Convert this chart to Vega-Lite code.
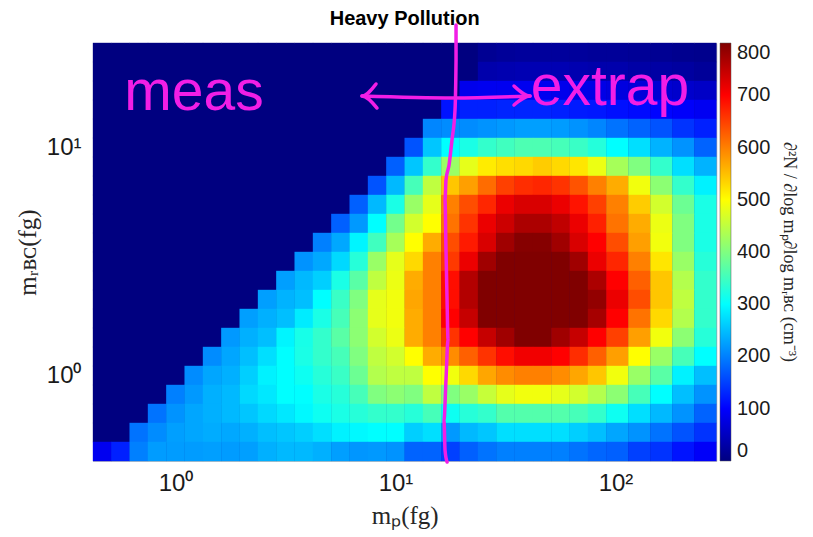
{
"$schema": "https://vega.github.io/schema/vega-lite/v6.json",
"width": 623.3,
"height": 418,
"autosize": {"type": "none"},
"padding": {"left": 93, "top": 43, "right": 97, "bottom": 76},
"background": "white",
"title": {"text": "Heavy Pollution", "font": "Liberation Sans", "fontSize": 20, "fontWeight": "bold", "color": "#000000", "anchor": "middle", "frame": "group", "offset": -6},
"config": {"view": {"stroke": "#c0c0c0", "fill": "#000080"}},
"datasets": {
"reg": [
{"x":0.4642,"y":26.102,"v":0},{"x":0.5623,"y":26.102,"v":0},{"x":0.6813,"y":26.102,"v":0},{"x":0.8254,"y":26.102,"v":0},{"x":1,"y":26.102,"v":0},{"x":1.2115,"y":26.102,"v":0},{"x":1.4678,"y":26.102,"v":0},{"x":1.7783,"y":26.102,"v":0},{"x":2.1544,"y":26.102,"v":0},{"x":2.6102,"y":26.102,"v":0},{"x":3.1623,"y":26.102,"v":0},{"x":3.8312,"y":26.102,"v":0},{"x":4.6416,"y":26.102,"v":0},{"x":5.6234,"y":26.102,"v":0},{"x":6.8129,"y":26.102,"v":0},{"x":8.254,"y":26.102,"v":0},{"x":10,"y":26.102,"v":0},{"x":12.115,"y":26.102,"v":0},{"x":14.678,"y":26.102,"v":0},{"x":17.783,"y":26.102,"v":0},{"x":21.544,"y":26.102,"v":0},{"x":26.102,"y":26.102,"v":15},{"x":31.623,"y":26.102,"v":20},{"x":38.312,"y":26.102,"v":22},{"x":46.416,"y":26.102,"v":22},{"x":56.234,"y":26.102,"v":22},{"x":68.129,"y":26.102,"v":22},{"x":82.54,"y":26.102,"v":20},
{"x":0.4642,"y":21.544,"v":0},{"x":0.5623,"y":21.544,"v":0},{"x":0.6813,"y":21.544,"v":0},{"x":0.8254,"y":21.544,"v":0},{"x":1,"y":21.544,"v":0},{"x":1.2115,"y":21.544,"v":0},{"x":1.4678,"y":21.544,"v":0},{"x":1.7783,"y":21.544,"v":0},{"x":2.1544,"y":21.544,"v":0},{"x":2.6102,"y":21.544,"v":0},{"x":3.1623,"y":21.544,"v":0},{"x":3.8312,"y":21.544,"v":0},{"x":4.6416,"y":21.544,"v":0},{"x":5.6234,"y":21.544,"v":0},{"x":6.8129,"y":21.544,"v":0},{"x":8.254,"y":21.544,"v":0},{"x":10,"y":21.544,"v":0},{"x":12.115,"y":21.544,"v":0},{"x":14.678,"y":21.544,"v":0},{"x":17.783,"y":21.544,"v":0},{"x":21.544,"y":21.544,"v":0},{"x":26.102,"y":21.544,"v":35},{"x":31.623,"y":21.544,"v":38},{"x":38.312,"y":21.544,"v":40},{"x":46.416,"y":21.544,"v":40},{"x":56.234,"y":21.544,"v":40},{"x":68.129,"y":21.544,"v":38},{"x":82.54,"y":21.544,"v":35},
{"x":0.4642,"y":17.783,"v":0},{"x":0.5623,"y":17.783,"v":0},{"x":0.6813,"y":17.783,"v":0},{"x":0.8254,"y":17.783,"v":0},{"x":1,"y":17.783,"v":0},{"x":1.2115,"y":17.783,"v":0},{"x":1.4678,"y":17.783,"v":0},{"x":1.7783,"y":17.783,"v":0},{"x":2.1544,"y":17.783,"v":0},{"x":2.6102,"y":17.783,"v":0},{"x":3.1623,"y":17.783,"v":0},{"x":3.8312,"y":17.783,"v":0},{"x":4.6416,"y":17.783,"v":0},{"x":5.6234,"y":17.783,"v":0},{"x":6.8129,"y":17.783,"v":0},{"x":8.254,"y":17.783,"v":0},{"x":10,"y":17.783,"v":0},{"x":12.115,"y":17.783,"v":0},{"x":14.678,"y":17.783,"v":0},{"x":17.783,"y":17.783,"v":0},{"x":21.544,"y":17.783,"v":85},{"x":26.102,"y":17.783,"v":88},{"x":31.623,"y":17.783,"v":88},{"x":38.312,"y":17.783,"v":88},{"x":46.416,"y":17.783,"v":88},{"x":56.234,"y":17.783,"v":85},{"x":68.129,"y":17.783,"v":82},{"x":82.54,"y":17.783,"v":80},
{"x":0.4642,"y":14.678,"v":0},{"x":0.5623,"y":14.678,"v":0},{"x":0.6813,"y":14.678,"v":0},{"x":0.8254,"y":14.678,"v":0},{"x":1,"y":14.678,"v":0},{"x":1.2115,"y":14.678,"v":0},{"x":1.4678,"y":14.678,"v":0},{"x":1.7783,"y":14.678,"v":0},{"x":2.1544,"y":14.678,"v":0},{"x":2.6102,"y":14.678,"v":0},{"x":3.1623,"y":14.678,"v":0},{"x":3.8312,"y":14.678,"v":0},{"x":4.6416,"y":14.678,"v":0},{"x":5.6234,"y":14.678,"v":0},{"x":6.8129,"y":14.678,"v":0},{"x":8.254,"y":14.678,"v":0},{"x":10,"y":14.678,"v":0},{"x":12.115,"y":14.678,"v":0},{"x":14.678,"y":14.678,"v":0},{"x":17.783,"y":14.678,"v":115},{"x":21.544,"y":14.678,"v":125},{"x":26.102,"y":14.678,"v":125},{"x":31.623,"y":14.678,"v":128},{"x":38.312,"y":14.678,"v":128},{"x":46.416,"y":14.678,"v":128},{"x":56.234,"y":14.678,"v":125},{"x":68.129,"y":14.678,"v":120},{"x":82.54,"y":14.678,"v":118},
{"x":0.4642,"y":12.115,"v":0},{"x":0.5623,"y":12.115,"v":0},{"x":0.6813,"y":12.115,"v":0},{"x":0.8254,"y":12.115,"v":0},{"x":1,"y":12.115,"v":0},{"x":1.2115,"y":12.115,"v":0},{"x":1.4678,"y":12.115,"v":0},{"x":1.7783,"y":12.115,"v":0},{"x":2.1544,"y":12.115,"v":0},{"x":2.6102,"y":12.115,"v":0},{"x":3.1623,"y":12.115,"v":0},{"x":3.8312,"y":12.115,"v":0},{"x":4.6416,"y":12.115,"v":0},{"x":5.6234,"y":12.115,"v":0},{"x":6.8129,"y":12.115,"v":0},{"x":8.254,"y":12.115,"v":0},{"x":10,"y":12.115,"v":0},{"x":12.115,"y":12.115,"v":0},{"x":14.678,"y":12.115,"v":205},{"x":17.783,"y":12.115,"v":210},{"x":21.544,"y":12.115,"v":210},{"x":26.102,"y":12.115,"v":215},{"x":31.623,"y":12.115,"v":220},{"x":38.312,"y":12.115,"v":225},{"x":46.416,"y":12.115,"v":225},{"x":56.234,"y":12.115,"v":222},{"x":68.129,"y":12.115,"v":215},{"x":82.54,"y":12.115,"v":205},
{"x":0.4642,"y":10,"v":0},{"x":0.5623,"y":10,"v":0},{"x":0.6813,"y":10,"v":0},{"x":0.8254,"y":10,"v":0},{"x":1,"y":10,"v":0},{"x":1.2115,"y":10,"v":0},{"x":1.4678,"y":10,"v":0},{"x":1.7783,"y":10,"v":0},{"x":2.1544,"y":10,"v":0},{"x":2.6102,"y":10,"v":0},{"x":3.1623,"y":10,"v":0},{"x":3.8312,"y":10,"v":0},{"x":4.6416,"y":10,"v":0},{"x":5.6234,"y":10,"v":0},{"x":6.8129,"y":10,"v":0},{"x":8.254,"y":10,"v":0},{"x":10,"y":10,"v":0},{"x":12.115,"y":10,"v":165},{"x":14.678,"y":10,"v":255},{"x":17.783,"y":10,"v":300},{"x":21.544,"y":10,"v":320},{"x":26.102,"y":10,"v":340},{"x":31.623,"y":10,"v":350},{"x":38.312,"y":10,"v":360},{"x":46.416,"y":10,"v":360},{"x":56.234,"y":10,"v":355},{"x":68.129,"y":10,"v":345},{"x":82.54,"y":10,"v":328},
{"x":0.4642,"y":8.254,"v":0},{"x":0.5623,"y":8.254,"v":0},{"x":0.6813,"y":8.254,"v":0},{"x":0.8254,"y":8.254,"v":0},{"x":1,"y":8.254,"v":0},{"x":1.2115,"y":8.254,"v":0},{"x":1.4678,"y":8.254,"v":0},{"x":1.7783,"y":8.254,"v":0},{"x":2.1544,"y":8.254,"v":0},{"x":2.6102,"y":8.254,"v":0},{"x":3.1623,"y":8.254,"v":0},{"x":3.8312,"y":8.254,"v":0},{"x":4.6416,"y":8.254,"v":0},{"x":5.6234,"y":8.254,"v":0},{"x":6.8129,"y":8.254,"v":0},{"x":8.254,"y":8.254,"v":0},{"x":10,"y":8.254,"v":175},{"x":12.115,"y":8.254,"v":255},{"x":14.678,"y":8.254,"v":340},{"x":17.783,"y":8.254,"v":420},{"x":21.544,"y":8.254,"v":480},{"x":26.102,"y":8.254,"v":515},{"x":31.623,"y":8.254,"v":525},{"x":38.312,"y":8.254,"v":530},{"x":46.416,"y":8.254,"v":540},{"x":56.234,"y":8.254,"v":530},{"x":68.129,"y":8.254,"v":520},{"x":82.54,"y":8.254,"v":485},
{"x":0.4642,"y":6.8129,"v":0},{"x":0.5623,"y":6.8129,"v":0},{"x":0.6813,"y":6.8129,"v":0},{"x":0.8254,"y":6.8129,"v":0},{"x":1,"y":6.8129,"v":0},{"x":1.2115,"y":6.8129,"v":0},{"x":1.4678,"y":6.8129,"v":0},{"x":1.7783,"y":6.8129,"v":0},{"x":2.1544,"y":6.8129,"v":0},{"x":2.6102,"y":6.8129,"v":0},{"x":3.1623,"y":6.8129,"v":0},{"x":3.8312,"y":6.8129,"v":0},{"x":4.6416,"y":6.8129,"v":0},{"x":5.6234,"y":6.8129,"v":0},{"x":6.8129,"y":6.8129,"v":0},{"x":8.254,"y":6.8129,"v":165},{"x":10,"y":6.8129,"v":245},{"x":12.115,"y":6.8129,"v":355},{"x":14.678,"y":6.8129,"v":450},{"x":17.783,"y":6.8129,"v":545},{"x":21.544,"y":6.8129,"v":575},{"x":26.102,"y":6.8129,"v":615},{"x":31.623,"y":6.8129,"v":650},{"x":38.312,"y":6.8129,"v":665},{"x":46.416,"y":6.8129,"v":670},{"x":56.234,"y":6.8129,"v":660},{"x":68.129,"y":6.8129,"v":635},{"x":82.54,"y":6.8129,"v":600},
{"x":0.4642,"y":5.6234,"v":0},{"x":0.5623,"y":5.6234,"v":0},{"x":0.6813,"y":5.6234,"v":0},{"x":0.8254,"y":5.6234,"v":0},{"x":1,"y":5.6234,"v":0},{"x":1.2115,"y":5.6234,"v":0},{"x":1.4678,"y":5.6234,"v":0},{"x":1.7783,"y":5.6234,"v":0},{"x":2.1544,"y":5.6234,"v":0},{"x":2.6102,"y":5.6234,"v":0},{"x":3.1623,"y":5.6234,"v":0},{"x":3.8312,"y":5.6234,"v":0},{"x":4.6416,"y":5.6234,"v":0},{"x":5.6234,"y":5.6234,"v":0},{"x":6.8129,"y":5.6234,"v":175},{"x":8.254,"y":5.6234,"v":245},{"x":10,"y":5.6234,"v":320},{"x":12.115,"y":5.6234,"v":420},{"x":14.678,"y":5.6234,"v":480},{"x":17.783,"y":5.6234,"v":600},{"x":21.544,"y":5.6234,"v":640},{"x":26.102,"y":5.6234,"v":670},{"x":31.623,"y":5.6234,"v":715},{"x":38.312,"y":5.6234,"v":730},{"x":46.416,"y":5.6234,"v":730},{"x":56.234,"y":5.6234,"v":715},{"x":68.129,"y":5.6234,"v":685},{"x":82.54,"y":5.6234,"v":650},
{"x":0.4642,"y":4.6416,"v":0},{"x":0.5623,"y":4.6416,"v":0},{"x":0.6813,"y":4.6416,"v":0},{"x":0.8254,"y":4.6416,"v":0},{"x":1,"y":4.6416,"v":0},{"x":1.2115,"y":4.6416,"v":0},{"x":1.4678,"y":4.6416,"v":0},{"x":1.7783,"y":4.6416,"v":0},{"x":2.1544,"y":4.6416,"v":0},{"x":2.6102,"y":4.6416,"v":0},{"x":3.1623,"y":4.6416,"v":0},{"x":3.8312,"y":4.6416,"v":0},{"x":4.6416,"y":4.6416,"v":0},{"x":5.6234,"y":4.6416,"v":175},{"x":6.8129,"y":4.6416,"v":220},{"x":8.254,"y":4.6416,"v":300},{"x":10,"y":4.6416,"v":390},{"x":12.115,"y":4.6416,"v":465},{"x":14.678,"y":4.6416,"v":500},{"x":17.783,"y":4.6416,"v":610},{"x":21.544,"y":4.6416,"v":660},{"x":26.102,"y":4.6416,"v":715},{"x":31.623,"y":4.6416,"v":740},{"x":38.312,"y":4.6416,"v":765},{"x":46.416,"y":4.6416,"v":765},{"x":56.234,"y":4.6416,"v":750},{"x":68.129,"y":4.6416,"v":715},{"x":82.54,"y":4.6416,"v":675},
{"x":0.4642,"y":3.8312,"v":0},{"x":0.5623,"y":3.8312,"v":0},{"x":0.6813,"y":3.8312,"v":0},{"x":0.8254,"y":3.8312,"v":0},{"x":1,"y":3.8312,"v":0},{"x":1.2115,"y":3.8312,"v":0},{"x":1.4678,"y":3.8312,"v":0},{"x":1.7783,"y":3.8312,"v":0},{"x":2.1544,"y":3.8312,"v":0},{"x":2.6102,"y":3.8312,"v":0},{"x":3.1623,"y":3.8312,"v":0},{"x":3.8312,"y":3.8312,"v":0},{"x":4.6416,"y":3.8312,"v":200},{"x":5.6234,"y":3.8312,"v":232},{"x":6.8129,"y":3.8312,"v":292},{"x":8.254,"y":3.8312,"v":350},{"x":10,"y":3.8312,"v":430},{"x":12.115,"y":3.8312,"v":500},{"x":14.678,"y":3.8312,"v":565},{"x":17.783,"y":3.8312,"v":640},{"x":21.544,"y":3.8312,"v":680},{"x":26.102,"y":3.8312,"v":730},{"x":31.623,"y":3.8312,"v":775},{"x":38.312,"y":3.8312,"v":795},{"x":46.416,"y":3.8312,"v":795},{"x":56.234,"y":3.8312,"v":775},{"x":68.129,"y":3.8312,"v":730},{"x":82.54,"y":3.8312,"v":700},
{"x":0.4642,"y":3.1623,"v":0},{"x":0.5623,"y":3.1623,"v":0},{"x":0.6813,"y":3.1623,"v":0},{"x":0.8254,"y":3.1623,"v":0},{"x":1,"y":3.1623,"v":0},{"x":1.2115,"y":3.1623,"v":0},{"x":1.4678,"y":3.1623,"v":0},{"x":1.7783,"y":3.1623,"v":0},{"x":2.1544,"y":3.1623,"v":0},{"x":2.6102,"y":3.1623,"v":0},{"x":3.1623,"y":3.1623,"v":0},{"x":3.8312,"y":3.1623,"v":215},{"x":4.6416,"y":3.1623,"v":232},{"x":5.6234,"y":3.1623,"v":270},{"x":6.8129,"y":3.1623,"v":330},{"x":8.254,"y":3.1623,"v":420},{"x":10,"y":3.1623,"v":480},{"x":12.115,"y":3.1623,"v":530},{"x":14.678,"y":3.1623,"v":600},{"x":17.783,"y":3.1623,"v":655},{"x":21.544,"y":3.1623,"v":715},{"x":26.102,"y":3.1623,"v":775},{"x":31.623,"y":3.1623,"v":805},{"x":38.312,"y":3.1623,"v":810},{"x":46.416,"y":3.1623,"v":810},{"x":56.234,"y":3.1623,"v":805},{"x":68.129,"y":3.1623,"v":775},{"x":82.54,"y":3.1623,"v":715},
{"x":0.4642,"y":2.6102,"v":0},{"x":0.5623,"y":2.6102,"v":0},{"x":0.6813,"y":2.6102,"v":0},{"x":0.8254,"y":2.6102,"v":0},{"x":1,"y":2.6102,"v":0},{"x":1.2115,"y":2.6102,"v":0},{"x":1.4678,"y":2.6102,"v":0},{"x":1.7783,"y":2.6102,"v":0},{"x":2.1544,"y":2.6102,"v":0},{"x":2.6102,"y":2.6102,"v":0},{"x":3.1623,"y":2.6102,"v":225},{"x":3.8312,"y":2.6102,"v":245},{"x":4.6416,"y":2.6102,"v":262},{"x":5.6234,"y":2.6102,"v":320},{"x":6.8129,"y":2.6102,"v":370},{"x":8.254,"y":2.6102,"v":450},{"x":10,"y":2.6102,"v":485},{"x":12.115,"y":2.6102,"v":565},{"x":14.678,"y":2.6102,"v":600},{"x":17.783,"y":2.6102,"v":690},{"x":21.544,"y":2.6102,"v":760},{"x":26.102,"y":2.6102,"v":805},{"x":31.623,"y":2.6102,"v":815},{"x":38.312,"y":2.6102,"v":820},{"x":46.416,"y":2.6102,"v":820},{"x":56.234,"y":2.6102,"v":815},{"x":68.129,"y":2.6102,"v":805},{"x":82.54,"y":2.6102,"v":765},
{"x":0.4642,"y":2.1544,"v":0},{"x":0.5623,"y":2.1544,"v":0},{"x":0.6813,"y":2.1544,"v":0},{"x":0.8254,"y":2.1544,"v":0},{"x":1,"y":2.1544,"v":0},{"x":1.2115,"y":2.1544,"v":0},{"x":1.4678,"y":2.1544,"v":0},{"x":1.7783,"y":2.1544,"v":0},{"x":2.1544,"y":2.1544,"v":0},{"x":2.6102,"y":2.1544,"v":225},{"x":3.1623,"y":2.1544,"v":240},{"x":3.8312,"y":2.1544,"v":250},{"x":4.6416,"y":2.1544,"v":300},{"x":5.6234,"y":2.1544,"v":345},{"x":6.8129,"y":2.1544,"v":400},{"x":8.254,"y":2.1544,"v":480},{"x":10,"y":2.1544,"v":490},{"x":12.115,"y":2.1544,"v":570},{"x":14.678,"y":2.1544,"v":600},{"x":17.783,"y":2.1544,"v":690},{"x":21.544,"y":2.1544,"v":760},{"x":26.102,"y":2.1544,"v":805},{"x":31.623,"y":2.1544,"v":820},{"x":38.312,"y":2.1544,"v":830},{"x":46.416,"y":2.1544,"v":830},{"x":56.234,"y":2.1544,"v":820},{"x":68.129,"y":2.1544,"v":805},{"x":82.54,"y":2.1544,"v":785},
{"x":0.4642,"y":1.7783,"v":0},{"x":0.5623,"y":1.7783,"v":0},{"x":0.6813,"y":1.7783,"v":0},{"x":0.8254,"y":1.7783,"v":0},{"x":1,"y":1.7783,"v":0},{"x":1.2115,"y":1.7783,"v":0},{"x":1.4678,"y":1.7783,"v":0},{"x":1.7783,"y":1.7783,"v":0},{"x":2.1544,"y":1.7783,"v":225},{"x":2.6102,"y":1.7783,"v":238},{"x":3.1623,"y":1.7783,"v":250},{"x":3.8312,"y":1.7783,"v":285},{"x":4.6416,"y":1.7783,"v":320},{"x":5.6234,"y":1.7783,"v":355},{"x":6.8129,"y":1.7783,"v":410},{"x":8.254,"y":1.7783,"v":480},{"x":10,"y":1.7783,"v":490},{"x":12.115,"y":1.7783,"v":565},{"x":14.678,"y":1.7783,"v":600},{"x":17.783,"y":1.7783,"v":700},{"x":21.544,"y":1.7783,"v":745},{"x":26.102,"y":1.7783,"v":805},{"x":31.623,"y":1.7783,"v":815},{"x":38.312,"y":1.7783,"v":820},{"x":46.416,"y":1.7783,"v":820},{"x":56.234,"y":1.7783,"v":815},{"x":68.129,"y":1.7783,"v":800},{"x":82.54,"y":1.7783,"v":770},
{"x":0.4642,"y":1.4678,"v":0},{"x":0.5623,"y":1.4678,"v":0},{"x":0.6813,"y":1.4678,"v":0},{"x":0.8254,"y":1.4678,"v":0},{"x":1,"y":1.4678,"v":0},{"x":1.2115,"y":1.4678,"v":0},{"x":1.4678,"y":1.4678,"v":0},{"x":1.7783,"y":1.4678,"v":220},{"x":2.1544,"y":1.4678,"v":238},{"x":2.6102,"y":1.4678,"v":250},{"x":3.1623,"y":1.4678,"v":292},{"x":3.8312,"y":1.4678,"v":318},{"x":4.6416,"y":1.4678,"v":340},{"x":5.6234,"y":1.4678,"v":370},{"x":6.8129,"y":1.4678,"v":410},{"x":8.254,"y":1.4678,"v":465},{"x":10,"y":1.4678,"v":485},{"x":12.115,"y":1.4678,"v":565},{"x":14.678,"y":1.4678,"v":600},{"x":17.783,"y":1.4678,"v":660},{"x":21.544,"y":1.4678,"v":700},{"x":26.102,"y":1.4678,"v":745},{"x":31.623,"y":1.4678,"v":775},{"x":38.312,"y":1.4678,"v":805},{"x":46.416,"y":1.4678,"v":805},{"x":56.234,"y":1.4678,"v":775},{"x":68.129,"y":1.4678,"v":745},{"x":82.54,"y":1.4678,"v":700},
{"x":0.4642,"y":1.2115,"v":0},{"x":0.5623,"y":1.2115,"v":0},{"x":0.6813,"y":1.2115,"v":0},{"x":0.8254,"y":1.2115,"v":0},{"x":1,"y":1.2115,"v":0},{"x":1.2115,"y":1.2115,"v":0},{"x":1.4678,"y":1.2115,"v":210},{"x":1.7783,"y":1.2115,"v":230},{"x":2.1544,"y":1.2115,"v":250},{"x":2.6102,"y":1.2115,"v":275},{"x":3.1623,"y":1.2115,"v":300},{"x":3.8312,"y":1.2115,"v":320},{"x":4.6416,"y":1.2115,"v":340},{"x":5.6234,"y":1.2115,"v":355},{"x":6.8129,"y":1.2115,"v":400},{"x":8.254,"y":1.2115,"v":450},{"x":10,"y":1.2115,"v":465},{"x":12.115,"y":1.2115,"v":500},{"x":14.678,"y":1.2115,"v":565},{"x":17.783,"y":1.2115,"v":590},{"x":21.544,"y":1.2115,"v":625},{"x":26.102,"y":1.2115,"v":660},{"x":31.623,"y":1.2115,"v":690},{"x":38.312,"y":1.2115,"v":710},{"x":46.416,"y":1.2115,"v":710},{"x":56.234,"y":1.2115,"v":700},{"x":68.129,"y":1.2115,"v":665},{"x":82.54,"y":1.2115,"v":625},
{"x":0.4642,"y":1,"v":0},{"x":0.5623,"y":1,"v":0},{"x":0.6813,"y":1,"v":0},{"x":0.8254,"y":1,"v":0},{"x":1,"y":1,"v":0},{"x":1.2115,"y":1,"v":210},{"x":1.4678,"y":1,"v":230},{"x":1.7783,"y":1,"v":238},{"x":2.1544,"y":1,"v":262},{"x":2.6102,"y":1,"v":290},{"x":3.1623,"y":1,"v":300},{"x":3.8312,"y":1,"v":310},{"x":4.6416,"y":1,"v":330},{"x":5.6234,"y":1,"v":345},{"x":6.8129,"y":1,"v":385},{"x":8.254,"y":1,"v":440},{"x":10,"y":1,"v":450},{"x":12.115,"y":1,"v":450},{"x":14.678,"y":1,"v":500},{"x":17.783,"y":1,"v":490},{"x":21.544,"y":1,"v":530},{"x":26.102,"y":1,"v":570},{"x":31.623,"y":1,"v":590},{"x":38.312,"y":1,"v":600},{"x":46.416,"y":1,"v":600},{"x":56.234,"y":1,"v":590},{"x":68.129,"y":1,"v":570},{"x":82.54,"y":1,"v":545},
{"x":0.4642,"y":0.8254,"v":0},{"x":0.5623,"y":0.8254,"v":0},{"x":0.6813,"y":0.8254,"v":0},{"x":0.8254,"y":0.8254,"v":0},{"x":1,"y":0.8254,"v":200},{"x":1.2115,"y":0.8254,"v":220},{"x":1.4678,"y":0.8254,"v":238},{"x":1.7783,"y":0.8254,"v":245},{"x":2.1544,"y":0.8254,"v":270},{"x":2.6102,"y":0.8254,"v":282},{"x":3.1623,"y":0.8254,"v":300},{"x":3.8312,"y":0.8254,"v":300},{"x":4.6416,"y":0.8254,"v":320},{"x":5.6234,"y":0.8254,"v":330},{"x":6.8129,"y":0.8254,"v":355},{"x":8.254,"y":0.8254,"v":400},{"x":10,"y":0.8254,"v":410},{"x":12.115,"y":0.8254,"v":400},{"x":14.678,"y":0.8254,"v":450},{"x":17.783,"y":0.8254,"v":400},{"x":21.544,"y":0.8254,"v":420},{"x":26.102,"y":0.8254,"v":455},{"x":31.623,"y":0.8254,"v":480},{"x":38.312,"y":0.8254,"v":490},{"x":46.416,"y":0.8254,"v":490},{"x":56.234,"y":0.8254,"v":480},{"x":68.129,"y":0.8254,"v":465},{"x":82.54,"y":0.8254,"v":440},
{"x":0.4642,"y":0.6813,"v":0},{"x":0.5623,"y":0.6813,"v":0},{"x":0.6813,"y":0.6813,"v":0},{"x":0.8254,"y":0.6813,"v":190},{"x":1,"y":0.6813,"v":215},{"x":1.2115,"y":0.6813,"v":230},{"x":1.4678,"y":0.6813,"v":238},{"x":1.7783,"y":0.6813,"v":245},{"x":2.1544,"y":0.6813,"v":255},{"x":2.6102,"y":0.6813,"v":270},{"x":3.1623,"y":0.6813,"v":282},{"x":3.8312,"y":0.6813,"v":295},{"x":4.6416,"y":0.6813,"v":310},{"x":5.6234,"y":0.6813,"v":320},{"x":6.8129,"y":0.6813,"v":330},{"x":8.254,"y":0.6813,"v":340},{"x":10,"y":0.6813,"v":340},{"x":12.115,"y":0.6813,"v":330},{"x":14.678,"y":0.6813,"v":355},{"x":17.783,"y":0.6813,"v":310},{"x":21.544,"y":0.6813,"v":330},{"x":26.102,"y":0.6813,"v":340},{"x":31.623,"y":0.6813,"v":365},{"x":38.312,"y":0.6813,"v":365},{"x":46.416,"y":0.6813,"v":365},{"x":56.234,"y":0.6813,"v":365},{"x":68.129,"y":0.6813,"v":355},{"x":82.54,"y":0.6813,"v":340},
{"x":0.4642,"y":0.5623,"v":0},{"x":0.5623,"y":0.5623,"v":0},{"x":0.6813,"y":0.5623,"v":190},{"x":0.8254,"y":0.5623,"v":210},{"x":1,"y":0.5623,"v":225},{"x":1.2115,"y":0.5623,"v":230},{"x":1.4678,"y":0.5623,"v":235},{"x":1.7783,"y":0.5623,"v":232},{"x":2.1544,"y":0.5623,"v":238},{"x":2.6102,"y":0.5623,"v":250},{"x":3.1623,"y":0.5623,"v":255},{"x":3.8312,"y":0.5623,"v":262},{"x":4.6416,"y":0.5623,"v":275},{"x":5.6234,"y":0.5623,"v":290},{"x":6.8129,"y":0.5623,"v":295},{"x":8.254,"y":0.5623,"v":300},{"x":10,"y":0.5623,"v":300},{"x":12.115,"y":0.5623,"v":262},{"x":14.678,"y":0.5623,"v":275},{"x":17.783,"y":0.5623,"v":220},{"x":21.544,"y":0.5623,"v":245},{"x":26.102,"y":0.5623,"v":255},{"x":31.623,"y":0.5623,"v":275},{"x":38.312,"y":0.5623,"v":275},{"x":46.416,"y":0.5623,"v":275},{"x":56.234,"y":0.5623,"v":275},{"x":68.129,"y":0.5623,"v":262},{"x":82.54,"y":0.5623,"v":250},
{"x":0.4642,"y":0.4642,"v":88},{"x":0.5623,"y":0.4642,"v":125},{"x":0.6813,"y":0.4642,"v":200},{"x":0.8254,"y":0.4642,"v":222},{"x":1,"y":0.4642,"v":222},{"x":1.2115,"y":0.4642,"v":222},{"x":1.4678,"y":0.4642,"v":225},{"x":1.7783,"y":0.4642,"v":222},{"x":2.1544,"y":0.4642,"v":225},{"x":2.6102,"y":0.4642,"v":238},{"x":3.1623,"y":0.4642,"v":245},{"x":3.8312,"y":0.4642,"v":245},{"x":4.6416,"y":0.4642,"v":238},{"x":5.6234,"y":0.4642,"v":225},{"x":6.8129,"y":0.4642,"v":218},{"x":8.254,"y":0.4642,"v":220},{"x":10,"y":0.4642,"v":215},{"x":12.115,"y":0.4642,"v":178},{"x":14.678,"y":0.4642,"v":178},{"x":17.783,"y":0.4642,"v":150},{"x":21.544,"y":0.4642,"v":175},{"x":26.102,"y":0.4642,"v":190},{"x":31.623,"y":0.4642,"v":200},{"x":38.312,"y":0.4642,"v":200},{"x":46.416,"y":0.4642,"v":200},{"x":56.234,"y":0.4642,"v":200},{"x":68.129,"y":0.4642,"v":190},{"x":82.54,"y":0.4642,"v":180}
],
"wide": [
{"x":101.9,"y":26.102,"v":20},{"x":128.3,"y":26.102,"v":18},{"x":161.6,"y":26.102,"v":15},{"x":203.4,"y":26.102,"v":12},{"x":256,"y":26.102,"v":10},
{"x":101.9,"y":21.544,"v":35},{"x":128.3,"y":21.544,"v":30},{"x":161.6,"y":21.544,"v":28},{"x":203.4,"y":21.544,"v":25},{"x":256,"y":21.544,"v":20},
{"x":101.9,"y":17.783,"v":75},{"x":128.3,"y":17.783,"v":70},{"x":161.6,"y":17.783,"v":65},{"x":203.4,"y":17.783,"v":60},{"x":256,"y":17.783,"v":55},
{"x":101.9,"y":14.678,"v":112},{"x":128.3,"y":14.678,"v":108},{"x":161.6,"y":14.678,"v":102},{"x":203.4,"y":14.678,"v":96},{"x":256,"y":14.678,"v":90},
{"x":101.9,"y":12.115,"v":190},{"x":128.3,"y":12.115,"v":178},{"x":161.6,"y":12.115,"v":165},{"x":203.4,"y":12.115,"v":140},{"x":256,"y":12.115,"v":125},
{"x":101.9,"y":10,"v":300},{"x":128.3,"y":10,"v":275},{"x":161.6,"y":10,"v":240},{"x":203.4,"y":10,"v":215},{"x":256,"y":10,"v":178},
{"x":101.9,"y":8.254,"v":430},{"x":128.3,"y":8.254,"v":400},{"x":161.6,"y":8.254,"v":340},{"x":203.4,"y":8.254,"v":275},{"x":256,"y":8.254,"v":240},
{"x":101.9,"y":6.8129,"v":565},{"x":128.3,"y":6.8129,"v":490},{"x":161.6,"y":6.8129,"v":410},{"x":203.4,"y":6.8129,"v":340},{"x":256,"y":6.8129,"v":290},
{"x":101.9,"y":5.6234,"v":600},{"x":128.3,"y":5.6234,"v":540},{"x":161.6,"y":5.6234,"v":465},{"x":203.4,"y":5.6234,"v":385},{"x":256,"y":5.6234,"v":320},
{"x":101.9,"y":4.6416,"v":610},{"x":128.3,"y":4.6416,"v":565},{"x":161.6,"y":4.6416,"v":485},{"x":203.4,"y":4.6416,"v":400},{"x":256,"y":4.6416,"v":320},
{"x":101.9,"y":3.8312,"v":640},{"x":128.3,"y":3.8312,"v":575},{"x":161.6,"y":3.8312,"v":490},{"x":203.4,"y":3.8312,"v":400},{"x":256,"y":3.8312,"v":320},
{"x":101.9,"y":3.1623,"v":670},{"x":128.3,"y":3.1623,"v":600},{"x":161.6,"y":3.1623,"v":520},{"x":203.4,"y":3.1623,"v":420},{"x":256,"y":3.1623,"v":330},
{"x":101.9,"y":2.6102,"v":700},{"x":128.3,"y":2.6102,"v":625},{"x":161.6,"y":2.6102,"v":545},{"x":203.4,"y":2.6102,"v":440},{"x":256,"y":2.6102,"v":340},
{"x":101.9,"y":2.1544,"v":715},{"x":128.3,"y":2.1544,"v":640},{"x":161.6,"y":2.1544,"v":545},{"x":203.4,"y":2.1544,"v":450},{"x":256,"y":2.1544,"v":340},
{"x":101.9,"y":1.7783,"v":700},{"x":128.3,"y":1.7783,"v":610},{"x":161.6,"y":1.7783,"v":530},{"x":203.4,"y":1.7783,"v":440},{"x":256,"y":1.7783,"v":340},
{"x":101.9,"y":1.4678,"v":650},{"x":128.3,"y":1.4678,"v":575},{"x":161.6,"y":1.4678,"v":490},{"x":203.4,"y":1.4678,"v":410},{"x":256,"y":1.4678,"v":330},
{"x":101.9,"y":1.2115,"v":575},{"x":128.3,"y":1.2115,"v":500},{"x":161.6,"y":1.2115,"v":420},{"x":203.4,"y":1.2115,"v":355},{"x":256,"y":1.2115,"v":300},
{"x":101.9,"y":1,"v":490},{"x":128.3,"y":1,"v":420},{"x":161.6,"y":1,"v":370},{"x":203.4,"y":1,"v":290},{"x":256,"y":1,"v":250},
{"x":101.9,"y":0.8254,"v":410},{"x":128.3,"y":0.8254,"v":355},{"x":161.6,"y":0.8254,"v":300},{"x":203.4,"y":0.8254,"v":250},{"x":256,"y":0.8254,"v":215},
{"x":101.9,"y":0.6813,"v":310},{"x":128.3,"y":0.6813,"v":275},{"x":161.6,"y":0.6813,"v":245},{"x":203.4,"y":0.6813,"v":215},{"x":256,"y":0.6813,"v":178},
{"x":101.9,"y":0.5623,"v":230},{"x":128.3,"y":0.5623,"v":215},{"x":161.6,"y":0.5623,"v":190},{"x":203.4,"y":0.5623,"v":165},{"x":256,"y":0.5623,"v":140},
{"x":101.9,"y":0.4642,"v":175},{"x":128.3,"y":0.4642,"v":150},{"x":161.6,"y":0.4642,"v":140},{"x":203.4,"y":0.4642,"v":115},{"x":256,"y":0.4642,"v":95}
],
"pen": [
{"s":"v","o":0,"x":18.84,"y":34.45},{"s":"v","o":1,"x":18.84,"y":24.19},{"s":"v","o":2,"x":18.64,"y":14.6},{"s":"v","o":3,"x":18.06,"y":10.79},{"s":"v","o":4,"x":17.51,"y":8.38},{"s":"v","o":5,"x":16.96,"y":7.202},{"s":"v","o":6,"x":16.79,"y":5.885},{"s":"v","o":7,"x":16.96,"y":3.551},{"s":"v","o":8,"x":17.15,"y":2.144},{"s":"v","o":9,"x":17.33,"y":1.431},{"s":"v","o":10,"x":16.96,"y":0.9555},{"s":"v","o":11,"x":16.61,"y":0.6381},{"s":"v","o":12,"x":16.79,"y":0.4711},{"s":"v","o":13,"x":17.15,"y":0.4175},
{"s":"a","o":0,"x":7.04,"y":16.82},{"s":"a","o":1,"x":18.3,"y":16.49},{"s":"a","o":2,"x":40.88,"y":16.82},
{"s":"l","o":0,"x":8.154,"y":18.99},{"s":"l","o":1,"x":7.04,"y":16.82},{"s":"l","o":2,"x":8.239,"y":14.9},
{"s":"r","o":0,"x":34.56,"y":18.61},{"s":"r","o":1,"x":40.88,"y":16.82},{"s":"r","o":2,"x":34.56,"y":15.36}
],
"notes": [
{"x":1.213,"y":14.6,"t":"meas"},
{"x":94.4,"y":15.36,"t":"extrap"}
]
},
"encoding": {
"x": {"field": "x", "type": "quantitative", "title": "mₚ(fg)",
 "scale": {"type": "log", "domain": [0.4217, 287.1], "nice": false},
 "axis": {"values": [1, 10, 100], "labelExpr": "datum.value == 1 ? '10⁰' : datum.value == 10 ? '10¹' : '10²'", "grid": false, "ticks": false, "domain": false, "labelFont": "Liberation Sans", "labelFontSize": 24, "labelColor": "#1a1a1a", "labelPadding": 11, "titleFont": "Liberation Serif", "titleFontSize": 25, "titleFontWeight": "normal", "titleColor": "#262626", "titlePadding": 8}},
"y": {"field": "y", "type": "quantitative", "title": "mᵣʙᴄ(fg)",
 "scale": {"type": "log", "domain": [0.4217, 28.73], "nice": false},
 "axis": {"values": [1, 10], "labelExpr": "datum.value == 1 ? '10⁰' : '10¹'", "grid": false, "ticks": false, "domain": false, "labelFont": "Liberation Sans", "labelFontSize": 24, "labelColor": "#1a1a1a", "labelPadding": 12, "titleFont": "Liberation Serif", "titleFontSize": 25, "titleFontWeight": "normal", "titleColor": "#262626", "titlePadding": 6}}
},
"layer": [
{"data": {"name": "reg"},
 "mark": {"type": "rect", "width": 18.7, "height": 19.4},
 "encoding": {"color": {"field": "v", "type": "quantitative",
  "scale": {"type": "linear", "domain": [0, 100, 300, 500, 700, 800], "range": ["#000080", "#0000ff", "#00ffff", "#ffff00", "#ff0000", "#800000"], "interpolate": "rgb", "clamp": true},
  "legend": {"orient": "right", "offset": 3, "padding": 0, "gradientLength": 418, "gradientThickness": 11, "gradientStrokeColor": "#555555", "gradientStrokeWidth": 0.5, "values": [0, 100, 200, 300, 400, 500, 600, 700, 800], "labelFont": "Liberation Sans", "labelFontSize": 20, "labelColor": "#1a1a1a", "labelOffset": 6, "labelBaseline": "middle", "labelOverlap": false, "title": "∂²N / ∂log mₚ∂log mᵣʙᴄ   (cm⁻³)", "titleOrient": "right", "titleAngle": -90, "titleLimit": 600, "titleFont": "Liberation Serif", "titleFontSize": 18, "titleFontWeight": "normal", "titleColor": "#262626", "titlePadding": 10, "titleAnchor": "middle"}}}},
{"data": {"name": "wide"},
 "mark": {"type": "rect", "width": 22.3, "height": 19.4},
 "encoding": {"color": {"field": "v", "type": "quantitative",
  "scale": {"type": "linear", "domain": [0, 100, 300, 500, 700, 800], "range": ["#000080", "#0000ff", "#00ffff", "#ffff00", "#ff0000", "#800000"], "interpolate": "rgb", "clamp": true}}}},
{"data": {"name": "pen"},
 "mark": {"type": "line", "color": "#f21ee6", "strokeWidth": 3.5, "strokeCap": "round", "strokeJoin": "round", "clip": false, "interpolate": "monotone"},
 "encoding": {"detail": {"field": "s"}, "order": {"field": "o"}}},
{"data": {"name": "notes"},
 "mark": {"type": "text", "color": "#f21ee6", "font": "Liberation Sans", "fontSize": 57, "align": "center", "baseline": "alphabetic"},
 "encoding": {"text": {"field": "t"}}}
]
}
